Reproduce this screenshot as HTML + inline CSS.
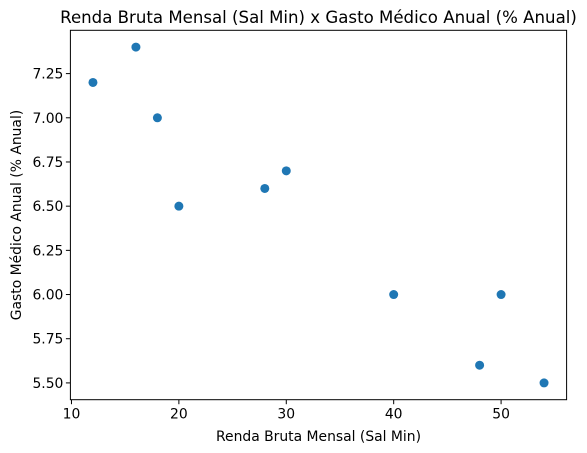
<!DOCTYPE html>
<html><head><meta charset="utf-8"><style>
body{margin:0;background:#fff}
svg{display:block;font-family:"DejaVu Sans","Liberation Sans",sans-serif}
</style></head><body>
<svg id="chart" width="587" height="453">
</svg>
<script>
const xVals=[12,16,18,20,28,30,40,48,50,54];
const yVals=[7.2,7.4,7.0,6.5,6.6,6.7,6.0,5.6,6.0,5.5];
const xTicks=[10,20,30,40,50];
const yTicks=[5.50,5.75,6.00,6.25,6.50,6.75,7.00,7.25];
const L=70.4,R=566.6,T=30.3,B=399.7;
const xmin=9.9,xmax=56.1,ymin=5.405,ymax=7.495;
const sx=v=>L+(v-xmin)/(xmax-xmin)*(R-L);
const sy=v=>B-(v-ymin)/(ymax-ymin)*(B-T);
const svg=document.getElementById('chart');
const NS='http://www.w3.org/2000/svg';
function mk(t,a,p){const e=document.createElementNS(NS,t);for(const k in a)e.setAttribute(k,a[k]);(p||svg).appendChild(e);return e;}
const title=mk('text',{x:(L+R)/2,y:23,'text-anchor':'middle','font-size':16.6,fill:'#000'});


title.textContent='Renda Bruta Mensal (Sal Min) x Gasto Médico Anual (% Anual)';
xTicks.forEach(t=>{
 const x=sx(t);
 const l=mk('line',{x1:x,x2:x,y1:B,y2:B+4.5,stroke:'#000','stroke-width':1});
 
 
 const tx=mk('text',{x:x,y:B+19,'text-anchor':'middle','font-size':13.9});
 
 
 tx.textContent=t;
});
yTicks.forEach(t=>{
 const y=sy(t);
 const l=mk('line',{x1:L-4.5,x2:L,y1:y,y2:y,stroke:'#000','stroke-width':1});
 
 
 const tx=mk('text',{x:L-7,y:y+5,'text-anchor':'end','font-size':13.9});
 
 
 tx.textContent=t.toFixed(2);
});
const xl=mk('text',{x:(L+R)/2,y:441,'text-anchor':'middle','font-size':13.9});


xl.textContent='Renda Bruta Mensal (Sal Min)';
const yl=mk('text',{x:0,y:0,'text-anchor':'middle','font-size':13.9,transform:`translate(21,${(T+B)/2}) rotate(-90)`});


yl.textContent='Gasto Médico Anual (% Anual)';
xVals.forEach((v,i)=>{
 const c=mk('circle',{cx:sx(v),cy:sy(yVals[i]),r:4.5,fill:'#1f77b4'});
 
 
});
const fr=mk('rect',{x:L,y:T,width:R-L,height:B-T,fill:'none',stroke:'#000','stroke-width':1});


</script>
</body></html>
